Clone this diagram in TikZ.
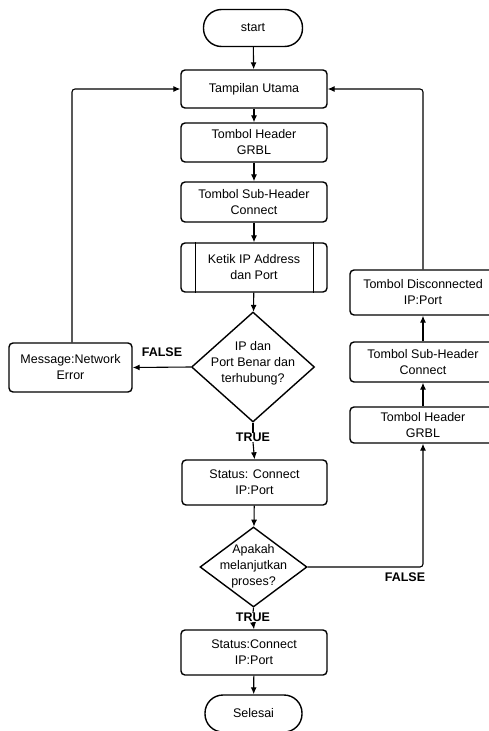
\documentclass[tikz,border=0pt]{standalone}
\usepackage{fontspec}
\setmainfont{Liberation Sans}
\usetikzlibrary{shapes.geometric,arrows.meta}
\begin{document}
\begin{tikzpicture}[x=1pt,y=-1pt,
  font=\fontsize{12.5}{16}\selectfont,
  box/.style={draw, line width=1.4pt, rounded corners=4pt, align=center,
    inner sep=0pt, minimum width=146pt},
  term/.style={draw, line width=1.4pt, rounded corners=18pt, align=center,
    inner sep=0pt, minimum width=99pt, minimum height=37pt},
  decision/.style={draw, diamond, line width=1.4pt, inner sep=0pt},
  txt/.style={align=center, inner sep=0pt},
  lbl/.style={font=\fontsize{12.5}{15}\selectfont\bfseries, inner sep=0pt},
  flow/.style={draw, line width=1.1pt, -{Latex[length=7pt,width=6pt]}},
  line/.style={draw, line width=1.1pt}]
\useasboundingbox (0,0) rectangle (489,731);
\clip (0,0) rectangle (489,731);
\fill[white] (0,0) rectangle (489,731);

% main column
\node[term] (start) at (253,28) {start};
\node[box, minimum height=38pt] (menu) at (254,89) {Tampilan Utama};
\node[box, minimum height=39pt] (hdr) at (254,142.5) {Tombol Header\\GRBL};
\node[box, minimum height=40pt] (sub) at (254,202) {Tombol Sub-Header\\Connect};
\node[box, minimum height=49pt] (ip) at (254,267.5) {Ketik IP Address\\dan Port};
\draw[line width=1.4pt] ([xshift=15pt]ip.north west) -- ([xshift=15pt]ip.south west)
  ([xshift=-14pt]ip.north east) -- ([xshift=-14pt]ip.south east);

\node[decision, minimum width=123pt, minimum height=110pt] (chk) at (253,367) {};
\node[txt] at (253,363.5) {IP dan\\Port Benar dan\\terhubung?};

\node[box, minimum width=123pt, minimum height=49pt] (err) at (70.5,367.5) {Message:Network\\Error};

\node[box, minimum width=145pt, minimum height=45pt] (stat1) at (254.5,482.5) {Status: Connect\\IP:Port};

\node[decision, minimum width=107pt, minimum height=80pt] (cont) at (253.5,567) {};
\node[txt] at (253.5,566) {Apakah\\melanjutkan\\proses?};

\node[box, minimum height=45pt] (stat2) at (254,652.5) {Status:Connect\\IP:Port};
\node[term, minimum width=97pt] (end) at (253.5,713.5) {Selesai};

% right column
\node[box, minimum height=36pt] (rhdr) at (423,425) {Tombol Header\\GRBL};
\node[box, minimum height=40pt] (rsub) at (423,362) {Tombol Sub-Header\\Connect};
\node[box, minimum height=45pt] (disc) at (423,292.5) {Tombol Disconnected\\IP:Port};

% branch labels
\node[lbl] (f1) at (162,352) {FALSE};
\node[lbl] (t1) at (253,437.5) {TRUE};
\node[lbl] (f2) at (405,577.5) {FALSE};
\node[lbl] (t2) at (253,617.5) {TRUE};

% connectors
\coordinate (lcorner) at (72,89);
\coordinate (rcorner) at (423,89);
\coordinate (bcorner) at (423,567);
\path[flow] (start) -- (menu);
\path[flow] (menu) -- (hdr);
\path[flow] (hdr) -- (sub);
\path[flow] (sub) -- (ip);
\path[flow] (ip) -- (chk);
\path[flow] (chk.west) -- (err.east);
\path[line] (chk.south) -- (t1.north);
\path[flow] (t1.south) -- (stat1.north);
\path[flow] (stat1) -- (cont);
\path[line] (cont.south) -- (t2.north);
\path[flow] (t2.south) -- (stat2.north);
\path[flow] (stat2) -- (end);
\path[flow, rounded corners=3pt] (err.north -| lcorner) -- (lcorner) -- (menu.west);
\path[flow, rounded corners=3pt] (cont.east) -- (bcorner) -- (rhdr.south);
\path[flow] (rhdr) -- (rsub);
\path[flow] (rsub) -- (disc);
\path[flow, rounded corners=3pt] (disc.north) -- (rcorner) -- (menu.east);
\end{tikzpicture}
\end{document}
